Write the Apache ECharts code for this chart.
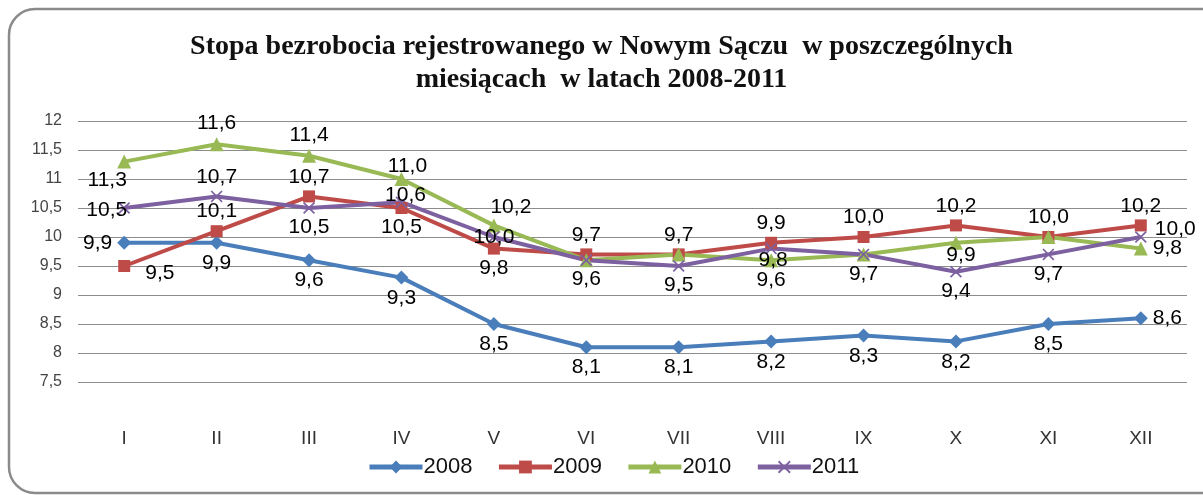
<!DOCTYPE html>
<html>
<head>
<meta charset="utf-8">
<script src="https://cdn.jsdelivr.net/npm/echarts@6/dist/echarts.min.js"></script>
<style>
  html, body { margin: 0; padding: 0; background: #fff; }
  #chart { width: 1203px; height: 495px; }
</style>
</head>
<body>
<div id="chart"></div>
<script>
const months = ['I', 'II', 'III', 'IV', 'V', 'VI', 'VII', 'VIII', 'IX', 'X', 'XI', 'XII']
const yTicks = [7.5, 8, 8.5, 9, 9.5, 10, 10.5, 11, 11.5, 12]

const s2008 = [9.9, 9.9, 9.6, 9.3, 8.5, 8.1, 8.1, 8.2, 8.3, 8.2, 8.5, 8.6]
const s2009 = [9.5, 10.1, 10.7, 10.5, 9.8, 9.7, 9.7, 9.9, 10.0, 10.2, 10.0, 10.2]
const s2010 = [11.3, 11.6, 11.4, 11.0, 10.2, 9.6, 9.7, 9.6, 9.7, 9.9, 10.0, 9.8]
const s2011 = [10.5, 10.7, 10.5, 10.6, 10.0, 9.6, 9.5, 9.8, 9.7, 9.4, 9.7, 10.0]

// where each value label sits relative to its point ('none' = hidden, overlaps another)
const pos2008 = ['left', 'bottom', 'bottom', 'bottom', 'bottom', 'bottom', 'bottom', 'bottom', 'bottom', 'bottom', 'bottom', 'right']
const pos2009 = ['right', 'top', 'top', 'bottom', 'bottom', 'top', 'top', 'top', 'top', 'top', 'top', 'top']
const pos2010 = ['bottom', 'top', 'top', 'top', 'top', 'none', 'none', 'bottom', 'none', 'bottom', 'none', 'right']
const pos2011 = ['left', 'top', 'bottom', 'top', 'inside', 'bottom', 'bottom', 'bottom', 'bottom', 'bottom', 'bottom', 'right']

// small label nudges, by point index
const nudge2009 = { 0: [10, 7] }
const nudge2010 = { 0: [-17, -2], 3: [6, 8], 4: [17, 2], 9: [5, -8] }
const nudge2011 = { 0: [14, 2], 3: [4, 13], 7: [2, -8], 11: [3, -8] }

const fmt = (v) => v.toFixed(1).replace('.', ',')
const crossPath = 'path://M1,0L5,4L9,0L10,1L6,5L10,9L9,10L5,6L1,10L0,9L4,5L0,1Z'

function makeData(values, positions, nudges) {
  return values.map((v, i) => {
    const p = positions[i]
    if (p === 'none') return { value: v, label: { show: false } }
    const label = { position: p }
    if (p === 'bottom' || p === 'top') label.distance = 3
    if (nudges && nudges[i]) label.offset = nudges[i]
    return { value: v, label }
  })
}

function makeSeries(name, values, positions, nudges, color, symbol, size) {
  return {
    name,
    type: 'line',
    data: makeData(values, positions, nudges),
    symbol,
    symbolSize: size,
    lineStyle: { color, width: 4 },
    itemStyle: { color },
    label: {
      show: true,
      color: '#000',
      fontFamily: 'Liberation Sans',
      fontSize: 21,
      formatter: (p) => fmt(p.value),
    },
  }
}

const chart = echarts.init(document.getElementById('chart'))

chart.setOption({
  animation: false,
  graphic: [
    {
      type: 'rect',
      shape: { x: 9, y: 9, width: 1250, height: 484, r: 26 },
      style: { fill: 'none', stroke: '#8a8a8a', lineWidth: 2.5 },
      silent: true,
      z: -1,
    },
  ],
  title: {
    text: 'Stopa bezrobocia rejestrowanego w Nowym Sączu  w poszczególnych\nmiesiącach  w latach 2008-2011',
    left: 'center',
    top: 25,
    padding: [5, 0, 5, 20],
    textStyle: {
      fontFamily: 'Liberation Serif',
      fontWeight: 'bold',
      fontSize: 28,
      lineHeight: 33,
      color: '#111',
    },
  },
  legend: {
    left: 362,
    top: 451,
    itemWidth: 53,
    itemHeight: 16,
    itemGap: 24,
    lineStyle: { width: 5 },
    textStyle: { fontFamily: 'Liberation Sans', fontSize: 22, color: '#111', padding: [0, 0, 0, -4] },
    data: ['2008', '2009', '2010', '2011'],
  },
  grid: { left: 78, right: 16, top: 121, bottom: 113, containLabel: false },
  xAxis: {
    type: 'category',
    data: months,
    boundaryGap: true,
    axisLine: { show: false },
    axisTick: { show: false },
    axisLabel: { color: '#333', fontFamily: 'Liberation Sans', fontSize: 19, margin: 47 },
  },
  yAxis: {
    type: 'value',
    min: yTicks[0],
    max: yTicks[yTicks.length - 1],
    interval: 0.5,
    axisLine: { show: false },
    axisTick: { show: false },
    splitLine: { lineStyle: { color: '#8c8c8c', width: 1.2 } },
    axisLabel: {
      color: '#444',
      fontFamily: 'Liberation Sans',
      fontSize: 16,
      margin: 16,
      formatter: (v) => String(v).replace('.', ','),
    },
  },
  series: [
    makeSeries('2008', s2008, pos2008, null, '#4a7ebb', 'diamond', 14),
    makeSeries('2009', s2009, pos2009, nudge2009, '#be4b48', 'rect', 12),
    makeSeries('2010', s2010, pos2010, nudge2010, '#98b954', 'triangle', 14),
    makeSeries('2011', s2011, pos2011, nudge2011, '#7d60a0', crossPath, 12),
  ],
})
</script>
</body>
</html>
